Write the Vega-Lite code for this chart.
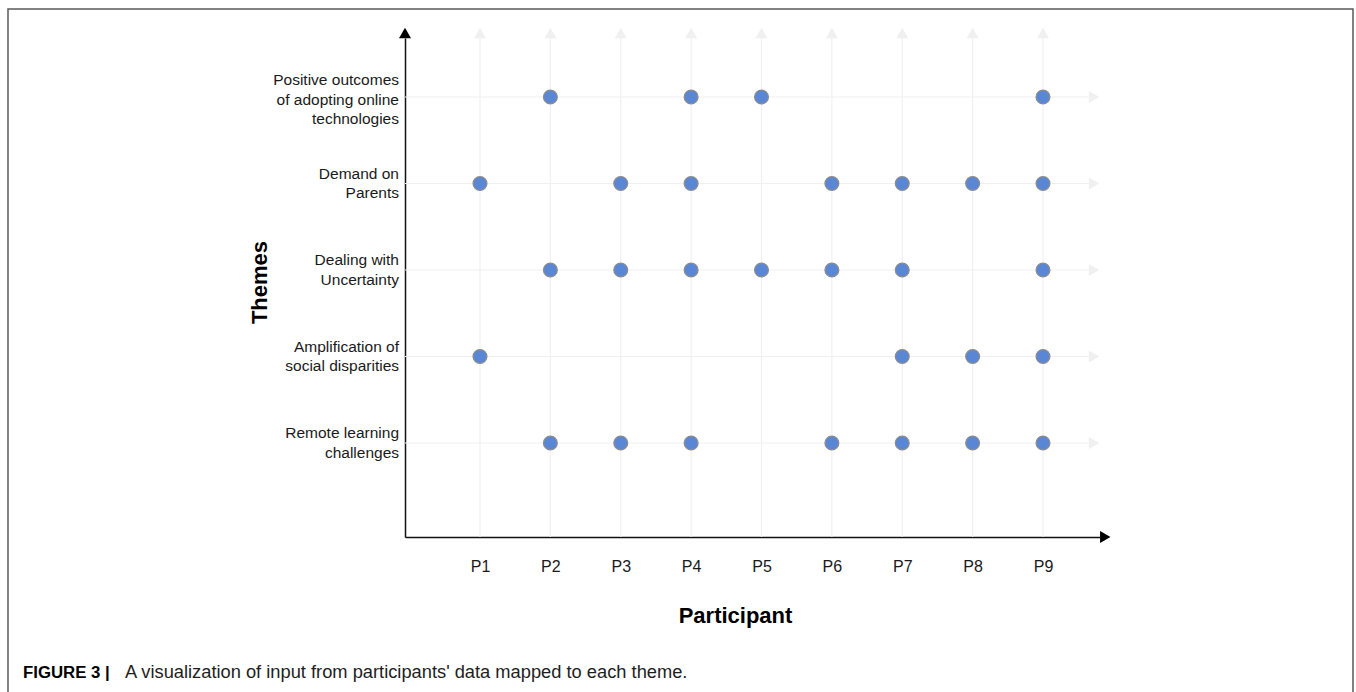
{
  "$schema": "https://vega.github.io/schema/vega-lite/v6.json",
  "description": "A visualization of input from participants' data mapped to each theme.",
  "autosize": {"type": "none"},
  "padding": {"left": 405, "top": 38, "right": 256, "bottom": 155},
  "width": 695,
  "height": 499,
  "background": "white",
  "config": {
    "view": {"stroke": null},
    "font": "Liberation Sans",
    "axis": {
      "labelFont": "Liberation Sans",
      "titleFont": "Liberation Sans",
      "grid": false,
      "ticks": false,
      "domainColor": "#111111",
      "domainWidth": 1.5
    },
    "axisY": {"labels": false}
  },
  "datasets": {
    "themes": [
      {"theme": "Positive outcomes", "label": "Positive outcomes\nof adopting online\ntechnologies", "row": 5},
      {"theme": "Demand on Parents", "label": "Demand on\nParents", "row": 4},
      {"theme": "Dealing with Uncertainty", "label": "Dealing with\nUncertainty", "row": 3},
      {"theme": "Amplification of social disparities", "label": "Amplification of\nsocial disparities", "row": 2},
      {"theme": "Remote learning challenges", "label": "Remote learning\nchallenges", "row": 1}
    ],
    "participants": [
      {"participant": 1}, {"participant": 2}, {"participant": 3},
      {"participant": 4}, {"participant": 5}, {"participant": 6},
      {"participant": 7}, {"participant": 8}, {"participant": 9}
    ],
    "mentions": [
      {"participant": 2, "theme": "Positive outcomes"},
      {"participant": 4, "theme": "Positive outcomes"},
      {"participant": 5, "theme": "Positive outcomes"},
      {"participant": 9, "theme": "Positive outcomes"},
      {"participant": 1, "theme": "Demand on Parents"},
      {"participant": 3, "theme": "Demand on Parents"},
      {"participant": 4, "theme": "Demand on Parents"},
      {"participant": 6, "theme": "Demand on Parents"},
      {"participant": 7, "theme": "Demand on Parents"},
      {"participant": 8, "theme": "Demand on Parents"},
      {"participant": 9, "theme": "Demand on Parents"},
      {"participant": 2, "theme": "Dealing with Uncertainty"},
      {"participant": 3, "theme": "Dealing with Uncertainty"},
      {"participant": 4, "theme": "Dealing with Uncertainty"},
      {"participant": 5, "theme": "Dealing with Uncertainty"},
      {"participant": 6, "theme": "Dealing with Uncertainty"},
      {"participant": 7, "theme": "Dealing with Uncertainty"},
      {"participant": 9, "theme": "Dealing with Uncertainty"},
      {"participant": 1, "theme": "Amplification of social disparities"},
      {"participant": 7, "theme": "Amplification of social disparities"},
      {"participant": 8, "theme": "Amplification of social disparities"},
      {"participant": 9, "theme": "Amplification of social disparities"},
      {"participant": 2, "theme": "Remote learning challenges"},
      {"participant": 3, "theme": "Remote learning challenges"},
      {"participant": 4, "theme": "Remote learning challenges"},
      {"participant": 6, "theme": "Remote learning challenges"},
      {"participant": 7, "theme": "Remote learning challenges"},
      {"participant": 8, "theme": "Remote learning challenges"},
      {"participant": 9, "theme": "Remote learning challenges"}
    ]
  },
  "layer": [
    {
      "data": {"name": "mentions"},
      "transform": [
        {"lookup": "theme", "from": {"data": {"name": "themes"}, "key": "theme", "fields": ["row"]}}
      ],
      "mark": {"type": "circle", "size": 0, "opacity": 0},
      "encoding": {
        "x": {
          "field": "participant",
          "type": "quantitative",
          "scale": {"domain": [-0.0657, 9.81], "nice": false, "zero": false},
          "axis": {
            "values": [1, 2, 3, 4, 5, 6, 7, 8, 9],
            "labelExpr": "'P' + datum.value",
            "labelPadding": 21,
            "labelFontSize": 16,
            "labelColor": "#1a1a1a",
            "title": "Participant",
            "titleFontSize": 22,
            "titleFontWeight": "bold",
            "titleColor": "#000000",
            "titleX": 330,
            "titleY": 68,
            "titleBaseline": "top"
          }
        },
        "y": {
          "field": "row",
          "type": "quantitative",
          "scale": {"domain": [-0.0867, 5.682], "nice": false, "zero": false},
          "axis": {
            "title": "Themes",
            "titleFontSize": 22,
            "titleFontWeight": "bold",
            "titleColor": "#000000",
            "titleX": -146,
            "titleY": 244,
            "titleBaseline": "middle"
          }
        }
      }
    },
    {
      "data": {"values": [{}]},
      "mark": {"type": "rect", "fill": null, "stroke": "#5a5a5a", "strokeWidth": 1.5},
      "encoding": {
        "x": {"datum": -5.707, "type": "quantitative"},
        "x2": {"datum": 13.405},
        "y": {"datum": 6.017, "type": "quantitative"},
        "y2": {"datum": -1.971}
      }
    },
    {
      "data": {"name": "participants"},
      "mark": {"type": "rule", "color": "#f0f0f0", "strokeWidth": 1.2},
      "encoding": {
        "x": {"field": "participant", "type": "quantitative"},
        "y": {"datum": -0.0867, "type": "quantitative"},
        "y2": {"datum": 5.682}
      }
    },
    {
      "data": {"name": "participants"},
      "mark": {"type": "point", "shape": "triangle-up", "filled": true, "color": "#f0f0f0", "opacity": 1, "size": 144},
      "encoding": {
        "x": {"field": "participant", "type": "quantitative"},
        "y": {"datum": 5.74, "type": "quantitative"}
      }
    },
    {
      "data": {"name": "themes"},
      "mark": {"type": "rule", "color": "#f0f0f0", "strokeWidth": 1.2},
      "encoding": {
        "y": {"field": "row", "type": "quantitative"},
        "x": {"datum": -0.0657, "type": "quantitative"},
        "x2": {"datum": 9.65}
      }
    },
    {
      "data": {"name": "themes"},
      "mark": {"type": "point", "shape": "triangle-right", "filled": true, "color": "#f0f0f0", "opacity": 1, "size": 144},
      "encoding": {
        "y": {"field": "row", "type": "quantitative"},
        "x": {"datum": 9.725, "type": "quantitative"}
      }
    },
    {
      "data": {"values": [{}]},
      "mark": {"type": "point", "shape": "triangle-up", "filled": true, "color": "#000000", "opacity": 1, "size": 144},
      "encoding": {
        "x": {"datum": -0.0657, "type": "quantitative"},
        "y": {"datum": 5.74, "type": "quantitative"}
      }
    },
    {
      "data": {"values": [{}]},
      "mark": {"type": "point", "shape": "triangle-right", "filled": true, "color": "#000000", "opacity": 1, "size": 144},
      "encoding": {
        "x": {"datum": 9.885, "type": "quantitative"},
        "y": {"datum": -0.0867, "type": "quantitative"}
      }
    },
    {
      "data": {"name": "themes"},
      "transform": [{"filter": "datum.theme == 'Positive outcomes'"}],
      "mark": {"type": "text", "align": "right", "baseline": "middle", "dx": -6, "dy": -16.5, "lineBreak": "\n", "lineHeight": 19.5, "fontSize": 15.5, "color": "#1a1a1a"},
      "encoding": {
        "x": {"datum": -0.0657, "type": "quantitative"},
        "y": {"field": "row", "type": "quantitative"},
        "text": {"field": "label"}
      }
    },
    {
      "data": {"name": "themes"},
      "transform": [{"filter": "datum.theme != 'Positive outcomes'"}],
      "mark": {"type": "text", "align": "right", "baseline": "middle", "dx": -6, "dy": -9.75, "lineBreak": "\n", "lineHeight": 19.5, "fontSize": 15.5, "color": "#1a1a1a"},
      "encoding": {
        "x": {"datum": -0.0657, "type": "quantitative"},
        "y": {"field": "row", "type": "quantitative"},
        "text": {"field": "label"}
      }
    },
    {
      "data": {"name": "mentions"},
      "transform": [
        {"lookup": "theme", "from": {"data": {"name": "themes"}, "key": "theme", "fields": ["row"]}}
      ],
      "mark": {"type": "circle", "size": 190, "fill": "#5a86d6", "stroke": "#8c8c8c", "strokeWidth": 1.3, "opacity": 1},
      "encoding": {
        "x": {"field": "participant", "type": "quantitative"},
        "y": {"field": "row", "type": "quantitative"},
        "tooltip": [
          {"field": "theme", "title": "Theme"},
          {"field": "participant", "title": "Participant"}
        ]
      }
    },
    {
      "data": {"values": [{"part": "FIGURE 3 |"}]},
      "mark": {"type": "text", "align": "left", "baseline": "alphabetic", "fontSize": 16.8, "fontWeight": "bold", "color": "#000000"},
      "encoding": {
        "x": {"datum": -5.494, "type": "quantitative"},
        "y": {"datum": -1.717, "type": "quantitative"},
        "text": {"field": "part"}
      }
    },
    {
      "data": {"values": [{"part": "A visualization of input from participants' data mapped to each theme."}]},
      "mark": {"type": "text", "align": "left", "baseline": "alphabetic", "fontSize": 18.3, "color": "#1e1e1e"},
      "encoding": {
        "x": {"datum": -4.044, "type": "quantitative"},
        "y": {"datum": -1.717, "type": "quantitative"},
        "text": {"field": "part"}
      }
    }
  ]
}
